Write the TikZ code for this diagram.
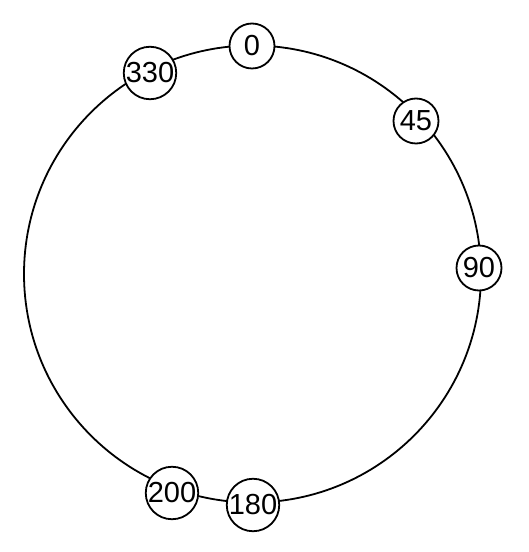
\documentclass[tikz,border=0pt]{standalone}
\usepackage{fontspec}
\setmainfont{Liberation Sans}
\usetikzlibrary{shapes.geometric}

\begin{document}
\begin{tikzpicture}[
    x=1pt, y=1pt,
    ring/.style={line width=1.8pt},
    peer/.style={circle, draw, fill=white, line width=1.8pt, minimum size=45pt, inner sep=0pt, font=\fontsize{29}{29}\selectfont},
]
\useasboundingbox (0,0) rectangle (529,552);

% The ring
\coordinate (ctr) at (252.5,278);
\draw[ring] (ctr) circle (228.5);

% Peers on the ring
\node[peer] (p0) at (252,506) {0};
\node[peer] (p45) at (416,431) {45};
\node[peer] (p90) at (479,284) {90};
\node[peer] (p180) at (253,47) {180};
\node[peer] (p200) at (172,59) {200};
\node[peer] (p330) at (150,479) {330};

\end{tikzpicture}
\end{document}
